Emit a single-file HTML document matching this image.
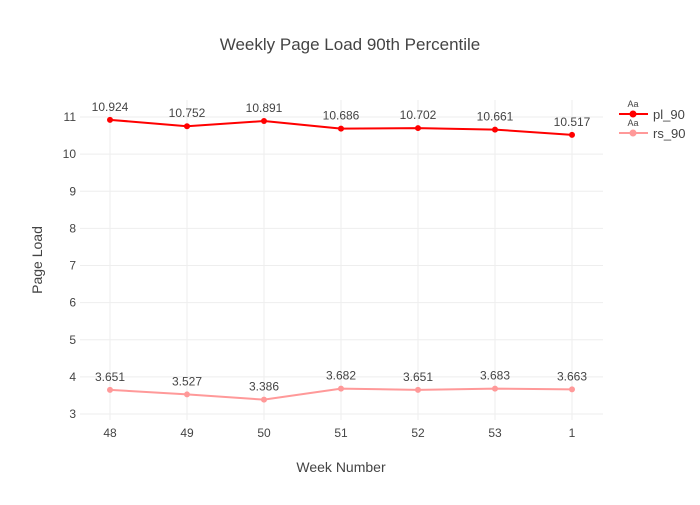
<!DOCTYPE html>
<html><head><meta charset="utf-8"><style>
body{margin:0;background:#fff;font-family:"Liberation Sans",sans-serif}
svg text{font-family:"Liberation Sans",sans-serif;fill:#444}
</style></head><body>
<svg width="700" height="500">
<g id="grid"></g><g id="marks"></g>
<text x="350" y="50" text-anchor="middle" font-size="17">Weekly Page Load 90th Percentile</text>
<text x="341" y="472" text-anchor="middle" font-size="14">Week Number</text>
<text transform="translate(42,260) rotate(-90)" text-anchor="middle" font-size="14">Page Load</text>
<g>
<g>
<text x="633" y="107" font-size="9" text-anchor="middle">Aa</text>
<line x1="619" y1="114" x2="648" y2="114" stroke="#ff0000" stroke-width="2"/><circle cx="633" cy="114" r="3.5" fill="#ff0000"/>
<text x="653" y="119" font-size="13">pl_90</text></g>
<g>
<text x="633" y="126" font-size="9" text-anchor="middle">Aa</text>
<line x1="619" y1="133" x2="648" y2="133" stroke="#ff9999" stroke-width="2"/><circle cx="633" cy="133" r="3.5" fill="#ff9999"/>
<text x="653" y="138" font-size="13">rs_90</text></g>
</g>
</svg>
<script>
const categories=["48","49","50","51","52","53","1"];
const pl90=[10.924,10.752,10.891,10.686,10.702,10.661,10.517];
const rs90=[3.651,3.527,3.386,3.682,3.651,3.683,3.663];
const yTicks=[3,4,5,6,7,8,9,10,11];
const NS="http://www.w3.org/2000/svg";
const x=i=>110+i*77;
const y=v=>414-(v-3)*37.125;
const grid=document.getElementById('grid'),marks=document.getElementById('marks');
function mk(tag,attrs,parent){const e=document.createElementNS(NS,tag);for(const k in attrs)e.setAttribute(k,attrs[k]);parent.appendChild(e);return e;}
yTicks.forEach(t=>{
 const l=mk('line',{x1:80,x2:603,y1:y(t),y2:y(t),stroke:'#eee'},grid);
 
 
 const tx=mk('text',{x:76,y:y(t)+4,'text-anchor':'end','font-size':12},grid);tx.textContent=t;
 
 
});
categories.forEach((c,i)=>{
 const l=mk('line',{x1:x(i),x2:x(i),y1:100,y2:420,stroke:'#eee'},grid);
 
 
 const tx=mk('text',{x:x(i),y:437,'text-anchor':'middle','font-size':12},grid);tx.textContent=c;
 
 
});
[[pl90,'#ff0000','pl-90'],[rs90,'#ff9999','rs-90']].forEach(([d,col,nm])=>{
 const p=mk('polyline',{points:d.map((v,i)=>x(i)+','+y(v)).join(' '),fill:'none',stroke:col,'stroke-width':2},marks);
 
 
 d.forEach((v,i)=>{
  const c=mk('circle',{cx:x(i),cy:y(v),r:3,fill:col},marks);
  
  
  const t=mk('text',{x:x(i),y:y(v)-9,'text-anchor':'middle','font-size':12},marks);t.textContent=v.toString();
  
  
 });
});
</script>
</body></html>
